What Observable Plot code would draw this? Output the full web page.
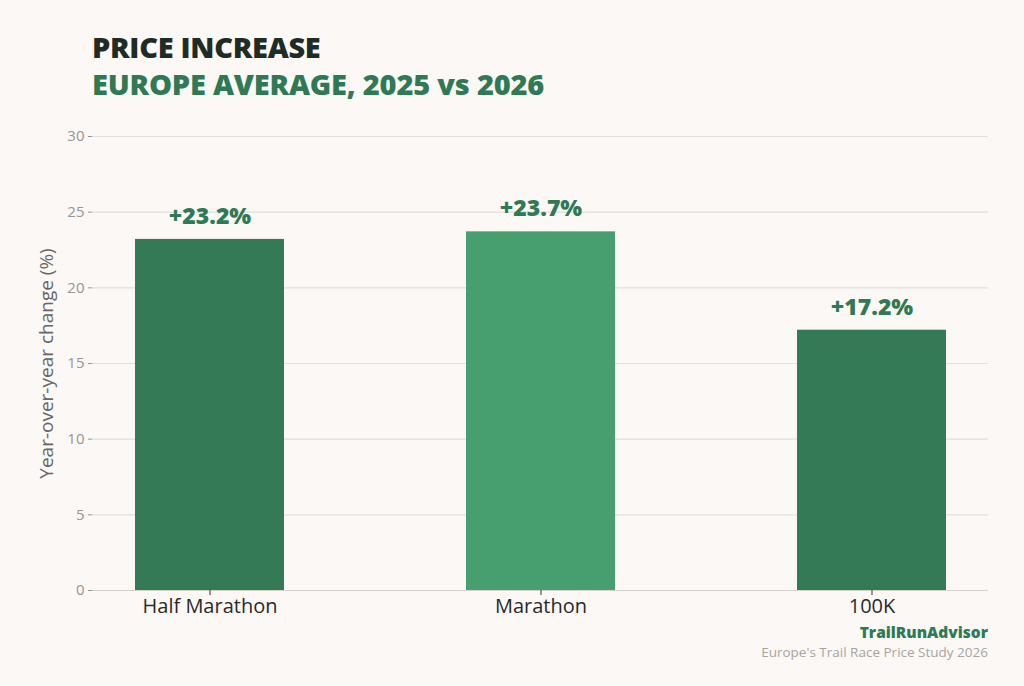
<!DOCTYPE html>
<html>
<head>
<meta charset="utf-8">
<script src="https://cdn.jsdelivr.net/npm/d3@7"></script>
<script src="https://cdn.jsdelivr.net/npm/@observablehq/plot@0.6"></script>
<style>
  html, body { margin: 0; padding: 0; background: #fbf8f5; }
  #wrap { position: relative; width: 1024px; height: 686px; background: #fbf8f5; font-family: "Open Sans", sans-serif; overflow: hidden; }
  #title { position: absolute; left: 92px; top: 27px; font-size: 29px; font-weight: 800; color: #1f2b25; line-height: 40px; letter-spacing: -0.3px; }
  #subtitle { position: absolute; left: 92px; top: 64px; font-size: 29px; font-weight: 800; color: #2f7a55; line-height: 40px; letter-spacing: -0.2px; }
  #chart { position: absolute; left: 0; top: 0; }
  #brand { position: absolute; right: 36px; top: 623px; font-size: 15.5px; font-weight: 800; color: #2f7a55; text-align: right; line-height: 18px; }
  #source { position: absolute; right: 36px; top: 645px; font-size: 13.5px; color: #a8a49f; text-align: right; line-height: 15px; }
</style>
</head>
<body>
<div id="wrap">
  <div id="chart"></div>
  <div id="title">PRICE INCREASE</div>
  <div id="subtitle">EUROPE AVERAGE, 2025 vs 2026</div>
  <div id="brand">TrailRunAdvisor</div>
  <div id="source">Europe's Trail Race Price Study 2026</div>
</div>
<script>
const categories = ["Half Marathon", "Marathon", "100K"];
const values = [23.2, 23.7, 17.2];
const barColors = ["#347a56", "#479e6e", "#347a56"];
const labels = ["+23.2%", "+23.7%", "+17.2%"];
const yTicks = [0, 5, 10, 15, 20, 25, 30];

const data = categories.map((c, i) => ({category: c, value: values[i], color: barColors[i], label: labels[i]}));

const chart = Plot.plot({
  width: 1024,
  height: 686,
  marginLeft: 92,
  marginRight: 36,
  marginTop: 136,
  marginBottom: 96,
  style: {background: "transparent", fontFamily: "Open Sans, sans-serif"},
  x: {domain: categories, paddingInner: 0.55, paddingOuter: 0.125, label: null, tickSize: 5},
  y: {domain: [0, 30], ticks: yTicks, label: "Year-over-year change (%)", tickSize: 4},
  marks: [
    Plot.gridY(yTicks, {stroke: "#e3dedb", strokeOpacity: 1, strokeWidth: 1.2}),
    Plot.barY(data, {x: "category", y: "value", fill: "color"}),
    Plot.ruleY([0], {stroke: "#d6d1cd", strokeWidth: 1.2}),
    Plot.text(data, {x: "category", y: "value", text: "label", dy: -23, fill: "#2f7a55", fontSize: 23, fontWeight: 800}),
    Plot.axisY({ticks: yTicks, tickSize: 4, stroke: "#9a9590", fill: "#9a9590", fontSize: 15, tickPadding: 4,
      label: "Year-over-year change (%)", labelAnchor: "center", labelArrow: "none", labelOffset: 53}),
    Plot.axisX({tickSize: 5, stroke: "#333", fill: "#2a2a2a", fontSize: 20, tickPadding: 3, label: null})
  ]
});
chart.querySelectorAll("g[aria-label='y-axis label'] text").forEach(t => { t.setAttribute("fill", "#666"); t.setAttribute("font-size", "19"); t.style.fontSize = "19px"; });
document.getElementById("chart").appendChild(chart);
</script>
</body>
</html>
